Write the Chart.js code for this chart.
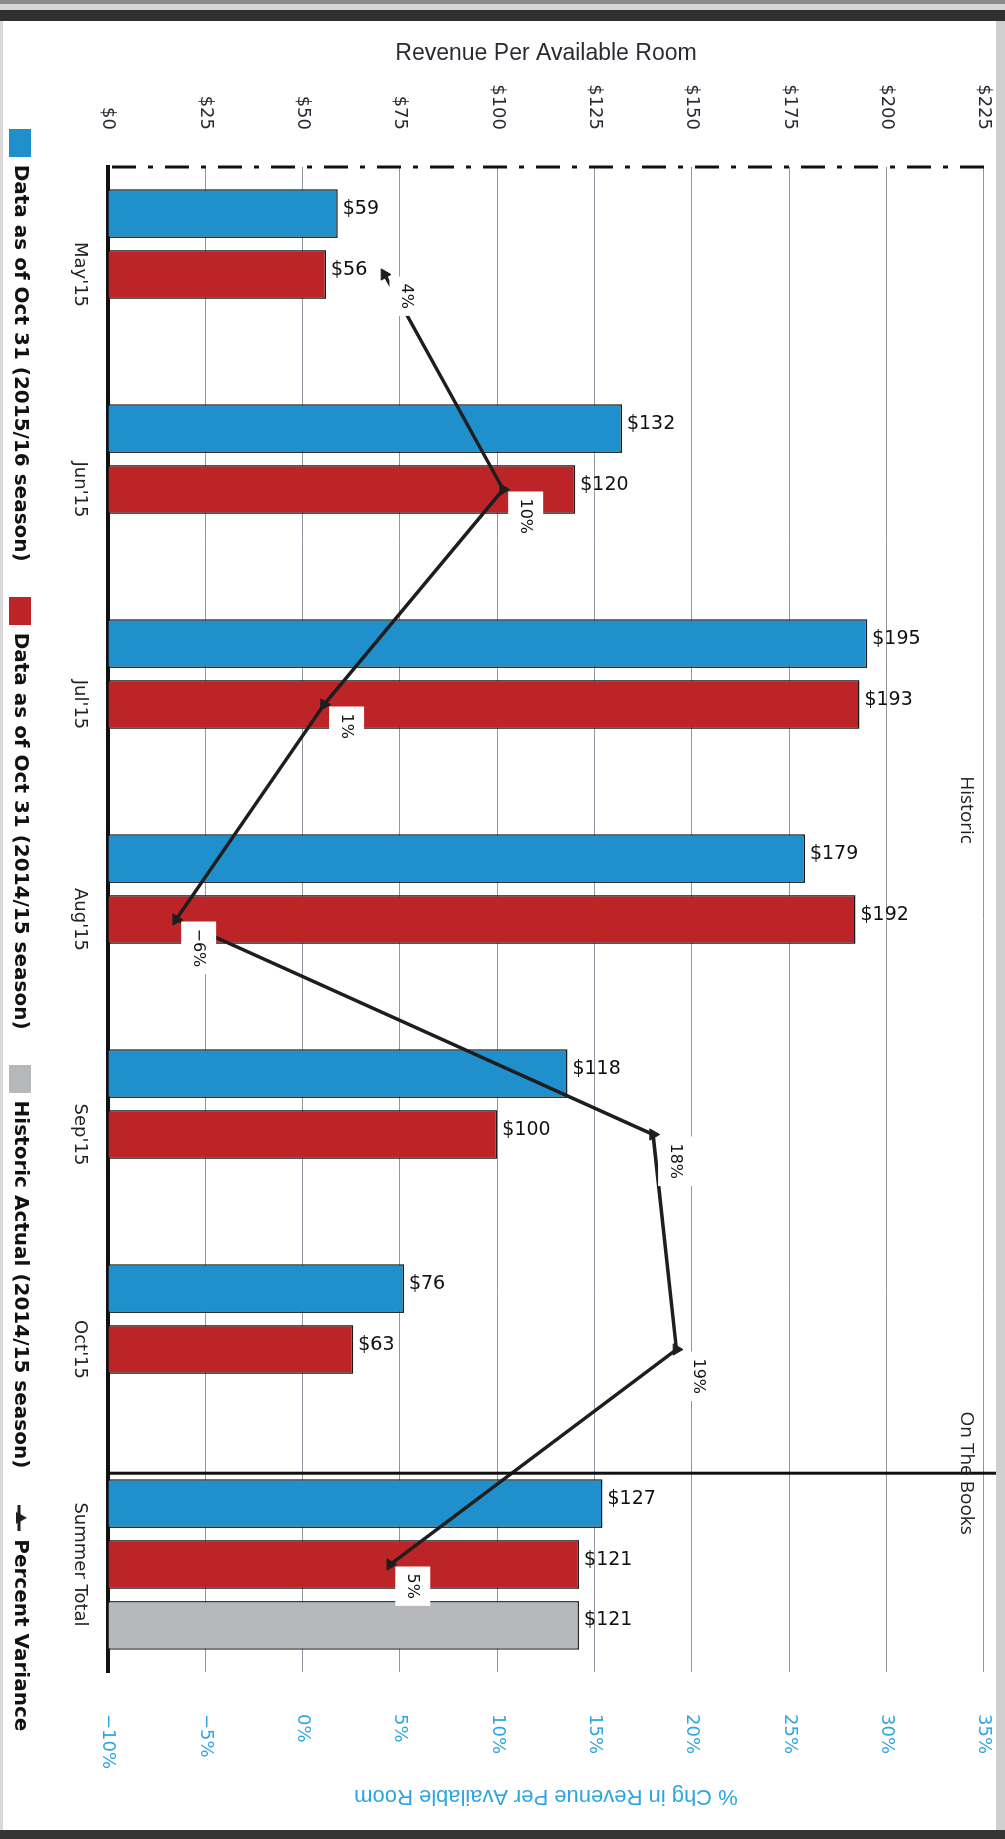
<!DOCTYPE html>
<html>
<head>
<meta charset="utf-8">
<script src="https://cdn.jsdelivr.net/npm/chart.js@4.4.1/dist/chart.umd.min.js"></script>
<style>
html,body{margin:0;padding:0;width:1005px;height:1839px;overflow:hidden;background:#fff;}
#wrap{position:absolute;left:0;top:0;width:1863px;height:1005px;transform-origin:0 0;transform:translateX(1005px) rotate(90deg);}
#frameTop{position:absolute;left:0;top:0;width:1005px;height:21px;z-index:3;
  background:linear-gradient(to bottom,#8a8a8a 0,#8a8a8a 4px,#d6d6d6 4px,#d6d6d6 10px,#303030 10px,#303030 21px);}
#frameBottom{position:absolute;left:0;top:1830px;width:1005px;height:9px;background:#353535;z-index:3;}
#frameRight{position:absolute;left:996px;top:0;width:9px;height:1839px;background:#cfcfd2;z-index:2;}
#frameLeft{position:absolute;left:0;top:0;width:3px;height:1839px;background:#d8d8d8;z-index:2;}
</style>
</head>
<body>
<div id="wrap"><canvas id="c" width="1863" height="1005"></canvas></div>
<div id="frameTop"></div><div id="frameBottom"></div><div id="frameRight"></div><div id="frameLeft"></div>
<script>
// ---- data ----
const categories = ["May'15", "Jun'15", "Jul'15", "Aug'15", "Sep'15", "Oct'15", "Summer Total"];
const revpar1516 = [59, 132, 195, 179, 118, 76, 127];
const revpar1415 = [56, 120, 193, 192, 100, 63, 121];
const historicActual = [null, null, null, null, null, null, 121];
const pctVariance = [4.2, 10.3, 1.1, -6.5, 18.0, 19.2, 4.5];
const pctLabels = ['4%', '10%', '1%', '\u22126%', '18%', '19%', '5%'];
const revenueTicks = ['$0', '$25', '$50', '$75', '$100', '$125', '$150', '$175', '$200', '$225'];
const pctTicks = ['\u221210%', '\u22125%', '0%', '5%', '10%', '15%', '20%', '25%', '30%', '35%'];
const seriesNames = ['Data as of Oct 31 (2015/16 season)', 'Data as of Oct 31 (2014/15 season)',
  'Historic Actual (2014/15 season)', 'Percent Variance'];
const sectionLabels = ['Historic', 'On The Books'];
const leftTitle = 'Revenue Per Available Room';
const rightTitle = '% Chg in Revenue Per Available Room';

// ---- styles ----
const BLUE = '#2090cd', RED = '#bd2427', GRAY = '#b7b8bc', INK = '#1e1e1e', PCT = '#2fa6e0';

function boxIcon(color) {
  const c = document.createElement('canvas'); c.width = 28; c.height = 22;
  const g = c.getContext('2d'); g.fillStyle = color; g.fillRect(0, 0, 28, 22); return c;
}
function lineIcon() {
  const c = document.createElement('canvas'); c.width = 26; c.height = 20;
  const g = c.getContext('2d');
  g.strokeStyle = INK; g.lineWidth = 3; g.beginPath(); g.moveTo(0, 11); g.lineTo(26, 11); g.stroke();
  g.fillStyle = INK; g.beginPath(); g.moveTo(13, 3); g.lineTo(19, 14); g.lineTo(7, 14); g.closePath(); g.fill();
  return c;
}
const legendIcons = [boxIcon(BLUE), boxIcon(RED), boxIcon(GRAY), lineIcon()];

const annotate = {
  id: 'annotate',
  beforeDatasetsDraw(chart) {
    const {ctx, chartArea} = chart;
    // dash-dot frame line on the revenue axis side
    ctx.save();
    ctx.strokeStyle = '#111'; ctx.lineWidth = 3; ctx.setLineDash([24, 12, 5, 12]);
    ctx.beginPath(); ctx.moveTo(chartArea.left, chartArea.top); ctx.lineTo(chartArea.left, chartArea.bottom); ctx.stroke();
    ctx.restore();
  },
  afterDatasetsDraw(chart) {
    const {ctx, chartArea} = chart;
    // separator between historic and on-the-books
    const sb = chart.getDatasetMeta(0).data[categories.length - 1];
    const sepX = sb.x - sb.width / 2 - 6;
    ctx.save();
    ctx.strokeStyle = '#111'; ctx.lineWidth = 3;
    ctx.beginPath(); ctx.moveTo(sepX, chartArea.bottom); ctx.lineTo(sepX, 0); ctx.stroke();
    ctx.font = '19px "Open Sans"'; ctx.fillStyle = '#222';
    ctx.textAlign = 'center'; ctx.textBaseline = 'middle';
    ctx.fillText(sectionLabels[0], (chartArea.left + sepX) / 2 - 10, chartArea.top + 18);
    ctx.fillText(sectionLabels[1], sepX, chartArea.top + 18);
    ctx.restore();

    // bar value labels
    [0, 1, 2].forEach(di => {
      const vals = chart.data.datasets[di].data;
      chart.getDatasetMeta(di).data.forEach((bar, i) => {
        if (vals[i] == null) return;
        ctx.save();
        ctx.translate(bar.x, bar.y - 5);
        ctx.rotate(-Math.PI / 2);
        ctx.font = '19px "DejaVu Sans"'; ctx.fillStyle = '#111';
        ctx.textAlign = 'left'; ctx.textBaseline = 'alphabetic';
        ctx.fillText('$' + vals[i], 0, 0);
        ctx.restore();
      });
    });

    // percent labels with white boxes
    chart.getDatasetMeta(3).data.forEach((pt, i) => {
      const txt = pctLabels[i];
      ctx.save();
      ctx.font = '16px "DejaVu Sans"';
      const w = ctx.measureText(txt).width;
      const left = pt.x + 2, top = pt.y - 40;
      ctx.fillStyle = '#fff';
      ctx.fillRect(left, top, w + 14, 35);
      ctx.fillStyle = '#111'; ctx.textAlign = 'left'; ctx.textBaseline = 'middle';
      ctx.fillText(txt, left + 7, top + 18);
      ctx.restore();
    });
  }
};

Chart.defaults.font.family = 'DejaVu Sans';

new Chart(document.getElementById('c'), {
  type: 'bar',
  data: {
    labels: categories,
    datasets: [
      {label: seriesNames[0], data: revpar1516, backgroundColor: BLUE, borderColor: '#1a1a1a', borderWidth: 1.5,
        yAxisID: 'y', order: 1, categoryPercentage: 0.85, barPercentage: 0.8},
      {label: seriesNames[1], data: revpar1415, backgroundColor: RED, borderColor: '#1a1a1a', borderWidth: 1.5,
        yAxisID: 'y', order: 1, categoryPercentage: 0.85, barPercentage: 0.8},
      {label: seriesNames[2], data: historicActual, backgroundColor: GRAY, borderColor: '#2a2a2a', borderWidth: 1.5,
        yAxisID: 'y', order: 1, categoryPercentage: 0.85, barPercentage: 0.8},
      {type: 'line', label: seriesNames[3], data: pctVariance, yAxisID: 'y1', order: 0,
        borderColor: INK, borderWidth: 3.5, tension: 0, fill: false,
        pointStyle: 'triangle', pointRadius: 6.5, pointBackgroundColor: INK, pointBorderColor: INK, pointBorderWidth: 1}
    ]
  },
  options: {
    responsive: false, animation: false, events: [],
    layout: {padding: {top: 21, left: 0, right: 0, bottom: 0}},
    scales: {
      x: {
        grid: {display: false, drawTicks: false},
        border: {display: true, color: '#111', width: 4},
        ticks: {font: {family: 'DejaVu Sans', size: 18}, color: '#222', padding: 18, maxRotation: 0, autoSkip: false},
        afterFit(s) { s.height = 40; s.paddingLeft = 0; s.paddingRight = 0; }
      },
      y: {
        position: 'left', min: 0, max: 225,
        ticks: {stepSize: 25, callback: (v, i) => revenueTicks[i], font: {family: 'DejaVu Sans', size: 18}, color: '#2a2a35', padding: 37},
        grid: {color: '#9096a0', lineWidth: 1, drawTicks: false},
        border: {display: false},
        title: {display: true, text: leftTitle, font: {family: 'Liberation Sans', size: 23}, color: '#2a2a35', padding: {top: 40, bottom: 0}},
        afterFit(s) { s.width = 167; s.paddingTop = 0; s.paddingBottom = 0; }
      },
      y1: {
        position: 'right', min: -10, max: 35,
        ticks: {stepSize: 5, callback: (v, i) => pctTicks[i], font: {family: 'DejaVu Sans', size: 18}, color: PCT, padding: 34},
        grid: {display: false, drawOnChartArea: false},
        border: {display: false},
        title: {display: true, text: rightTitle, font: {family: 'Liberation Sans', size: 22}, color: PCT, padding: {top: 54, bottom: 0}},
        afterFit(s) { s.width = 191; s.paddingTop = 0; s.paddingBottom = 0; }
      }
    },
    plugins: {
      tooltip: {enabled: false},
      legend: {
        position: 'bottom', align: 'center',
        labels: {
          usePointStyle: true, pointStyleWidth: 23, boxHeight: 20, padding: 38,
          font: {family: 'DejaVu Sans', size: 20, weight: 'bold'}, color: '#111',
          sort: (a, b) => a.datasetIndex - b.datasetIndex,
          generateLabels(chart) {
            const items = Chart.defaults.plugins.legend.labels.generateLabels(chart);
            items.forEach(it => { it.pointStyle = legendIcons[it.datasetIndex]; it.rotation = 0; });
            return items;
          }
        }
      }
    }
  },
  plugins: [annotate]
});
</script>
</body>
</html>
